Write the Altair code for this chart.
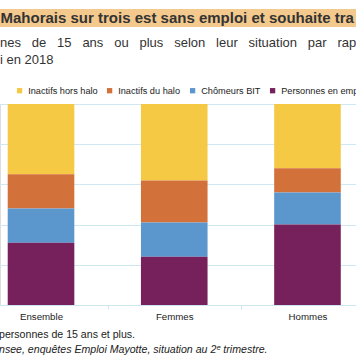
import altair as alt
import pandas as pd

categories = ["Ensemble", "Femmes", "Hommes"]
series = ["Inactifs hors halo", "Inactifs du halo", "Chômeurs BIT", "Personnes en emploi"]
colors = ["#f6c945", "#d3713a", "#5b97cd", "#76215b"]
stack_order = [3, 2, 1, 0]
hors_halo = [35, 38, 32]
halo = [17, 21, 12]
chomeurs = [17, 17, 16]
emploi = [31, 24, 40]

values = [hors_halo, halo, chomeurs, emploi]
rows = []
for s, vals, o in zip(series, values, stack_order):
    for c, v in zip(categories, vals):
        rows.append({"cat": c, "serie": s, "val": v, "ord": o})
df = pd.DataFrame(rows)

FONT = "Liberation Sans"
W, H = 356, 201
TOP = 104

bars = alt.Chart(df).mark_bar(width=alt.RelativeBandSize(0.5)).encode(
    x=alt.X("cat:N", sort=categories, title=None,
            scale=alt.Scale(range=[-25.6, 374.1], paddingInner=0, paddingOuter=0),
            axis=alt.Axis(labelAngle=0, tickBand="extent", labelFont=FONT, labelFontSize=9.7,
                          labelColor="#222222", domainColor="#cde6f1", tickColor="#cde6f1",
                          tickSize=4, labelPadding=2, grid=False)),
    y=alt.Y("val:Q", stack="zero", title=None,
            scale=alt.Scale(domain=[0, 100], nice=False),
            axis=alt.Axis(values=[0, 20, 40, 60, 80, 100], labels=False, ticks=False,
                          domain=False, grid=True, gridColor="#cfe8f3", gridWidth=1)),
    color=alt.Color("serie:N", scale=alt.Scale(domain=series, range=colors),
                    legend=alt.Legend(title=None, orient="none", legendX=15, legendY=-18,
                                      direction="horizontal", symbolType="square",
                                      symbolSize=28, symbolStrokeWidth=0,
                                      labelFont=FONT, labelFontSize=9.2, labelColor="#222222",
                                      labelOffset=4, columnPadding=7)),
    order=alt.Order("ord:Q", sort="ascending"),
)

one = alt.Data(values=[{"a": 1}])

band = alt.Chart(one).mark_rect(color="#f3c98d").encode(
    x=alt.value(0), x2=alt.value(W), y=alt.value(9 - TOP), y2=alt.value(27 - TOP)
)

title = alt.Chart(one).mark_text(align="left", baseline="middle", font=FONT, fontSize=15,
                                  fontWeight="bold", color="#333333").encode(
    x=alt.value(0.5), y=alt.value(18 - TOP),
    text=alt.value("Mahorais sur trois est sans emploi et souhaite tra"))

sub1 = alt.Chart(one).mark_text(align="left", baseline="middle", font=FONT, fontSize=13,
                                 color="#333333").encode(
    x=alt.value(0), y=alt.value(43 - TOP),
    text=alt.value("nes \u00a0\u00a0de \u00a0\u00a015 \u00a0\u00a0ans \u00a0\u00a0ou \u00a0\u00a0plus \u00a0\u00a0selon \u00a0\u00a0leur \u00a0\u00a0situation \u00a0\u00a0par \u00a0\u00a0rap"))

sub2 = alt.Chart(one).mark_text(align="left", baseline="middle", font=FONT, fontSize=13,
                                 color="#333333").encode(
    x=alt.value(0), y=alt.value(60 - TOP), text=alt.value("i en 2018"))

foot1 = alt.Chart(one).mark_text(align="left", baseline="middle", font=FONT, fontSize=10.6,
                                  color="#222222").encode(
    x=alt.value(-1), y=alt.value(335 - TOP), text=alt.value("personnes de 15 ans et plus."))

foot2 = alt.Chart(one).mark_text(align="left", baseline="middle", font=FONT, fontSize=10.6,
                                  fontStyle="italic", color="#222222").encode(
    x=alt.value(-1), y=alt.value(350 - TOP),
    text=alt.value("nsee, enquêtes Emploi Mayotte, situation au 2\u1d49 trimestre."))

chart = alt.layer(bars, band, title, sub1, sub2, foot1, foot2).properties(
    width=W, height=H,
    autosize=alt.AutoSizeParams(type="none"),
    padding={"left": 0, "top": TOP, "right": 0, "bottom": 364 - TOP - H},
).configure_view(stroke=None).configure(background="white")

chart.save("out.html", embed_options={"renderer": "svg", "actions": False})
